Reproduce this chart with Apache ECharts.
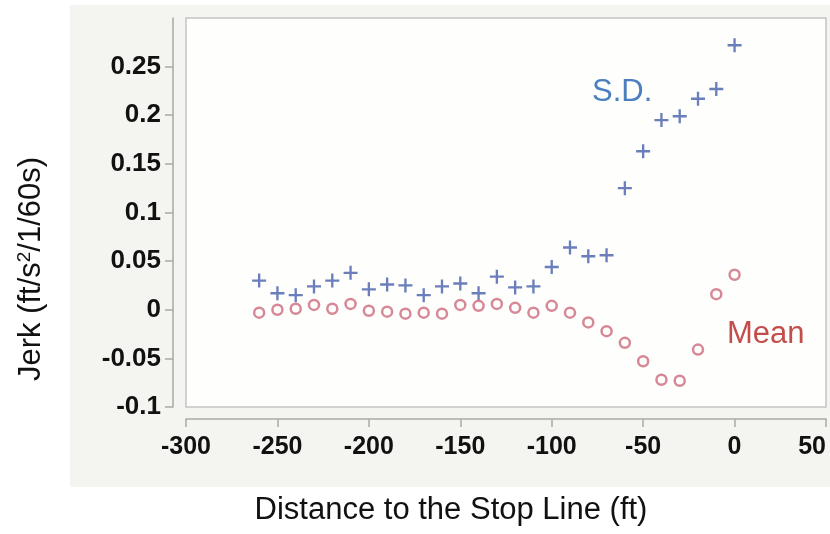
<!DOCTYPE html>
<html>
<head>
<meta charset="utf-8">
<script src="https://cdn.jsdelivr.net/npm/echarts@6/dist/echarts.min.js"></script>
<style>
  html, body { margin: 0; padding: 0; background: #ffffff; }
  #chart { width: 830px; height: 534px; }
</style>
</head>
<body>
<div id="chart"></div>
<script>
// Distance upstream of the stop line (ft)
const distance = [-260, -250, -240, -230, -220, -210, -200, -190, -180, -170, -160, -150, -140,
                  -130, -120, -110, -100, -90, -80, -70, -60, -50, -40, -30, -20, -10, 0];

// Standard deviation of jerk at each distance
const sdValues = [0.030, 0.017, 0.015, 0.024, 0.030, 0.038, 0.021, 0.026, 0.025, 0.015, 0.024, 0.027, 0.017,
                  0.034, 0.023, 0.024, 0.044, 0.064, 0.055, 0.056, 0.125, 0.163, 0.195, 0.199, 0.217, 0.227, 0.272];

// Mean jerk at each distance
const meanValues = [-0.003, 0.000, 0.001, 0.005, 0.001, 0.006, -0.001, -0.002, -0.004, -0.003, -0.004, 0.005, 0.004,
                    0.006, 0.002, -0.003, 0.004, -0.003, -0.013, -0.022, -0.034, -0.053, -0.072, -0.073, -0.041, 0.016, 0.036];

// Axis ticks
const xTicks = [-300, -250, -200, -150, -100, -50, 0, 50];
const yTicks = [-0.1, -0.05, 0, 0.05, 0.1, 0.15, 0.2, 0.25, 0.3];

// Series annotation positions (data coordinates)
const sdLabelAt = [-61.5, 0.223];
const meanLabelAt = [17, -0.025];

const FONT = '"Liberation Sans", Arial, Helvetica, sans-serif';
const PLUS = 'path://M-1,-6 L1,-6 L1,-1 L6,-1 L6,1 L1,1 L1,6 L-1,6 L-1,1 L-6,1 L-6,-1 L-1,-1 Z';

const chart = echarts.init(document.getElementById('chart'), null, { renderer: 'canvas' });

const axisLineStyle = { color: '#a9a9a9', width: 1.5 };

chart.setOption({
  animation: false,
  backgroundColor: '#ffffff',
  graphic: [
    {
      type: 'rect', z: -10,
      shape: { x: 70, y: 5, width: 760, height: 482 },
      style: { fill: '#f4f4f0' }
    },
    {
      type: 'text', z: 100,
      x: 451, y: 510,
      style: {
        text: 'Distance to the Stop Line (ft)',
        font: '31px ' + FONT, fill: '#111111',
        align: 'center', verticalAlign: 'middle'
      }
    },
    {
      type: 'text', z: 100,
      x: 31, y: 269, rotation: Math.PI / 2,
      style: {
        text: 'Jerk (ft/s{sup|2}/1/60s)',
        font: '31px ' + FONT, fill: '#111111',
        align: 'center', verticalAlign: 'middle',
        rich: {
          sup: { fontSize: 19, fontFamily: FONT, verticalAlign: 'top', padding: [0, 0, 13, 0], fill: '#111111' }
        }
      }
    }
  ],
  grid: {
    show: true,
    left: 186, right: 4, top: 18, bottom: 127,
    outerBoundsMode: 'none',
    containLabel: false,
    backgroundColor: '#fefefd',
    borderColor: '#c4c4c4',
    borderWidth: 1.5
  },
  xAxis: {
    type: 'value',
    min: xTicks[0], max: xTicks[xTicks.length - 1], interval: 50,
    offset: 12,
    axisLine: { show: true, onZero: false, lineStyle: axisLineStyle },
    axisTick: { show: true, length: 8, lineStyle: axisLineStyle },
    splitLine: { show: false },
    axisLabel: {
      margin: 16, color: '#111111', alignMaxLabel: 'right',
      fontFamily: FONT, fontWeight: 'bold', fontSize: 25
    }
  },
  yAxis: {
    type: 'value',
    min: yTicks[0], max: yTicks[yTicks.length - 1], interval: 0.05,
    offset: 13,
    axisLine: { show: true, onZero: false, lineStyle: axisLineStyle },
    axisTick: { show: true, length: 8, lineStyle: axisLineStyle },
    splitLine: { show: false },
    axisLabel: {
      margin: 12, color: '#111111', showMaxLabel: false,
      fontFamily: FONT, fontWeight: 'bold', fontSize: 26,
      formatter: v => String(Math.round(v * 100) / 100)
    }
  },
  series: [
    {
      name: 'S.D.',
      type: 'scatter',
      data: distance.map((d, i) => [d, sdValues[i]]),
      symbol: PLUS,
      symbolSize: 14,
      itemStyle: { color: '#5a70b4', opacity: 0.9 },
      markPoint: {
        symbol: 'circle', symbolSize: 0, silent: true,
        label: {
          show: true, position: 'inside', formatter: 'S.D.',
          color: '#4a7fc0', fontFamily: FONT, fontSize: 31
        },
        data: [{ coord: sdLabelAt }]
      }
    },
    {
      name: 'Mean',
      type: 'scatter',
      data: distance.map((d, i) => [d, meanValues[i]]),
      symbol: 'circle',
      symbolSize: 10,
      itemStyle: { color: 'rgba(255,255,255,0)', borderColor: '#cc6a7c', borderWidth: 2.5 },
      markPoint: {
        symbol: 'circle', symbolSize: 0, silent: true,
        label: {
          show: true, position: 'inside', formatter: 'Mean',
          color: '#c24d4b', fontFamily: FONT, fontSize: 31
        },
        data: [{ coord: meanLabelAt }]
      }
    }
  ]
});
</script>
</body>
</html>
